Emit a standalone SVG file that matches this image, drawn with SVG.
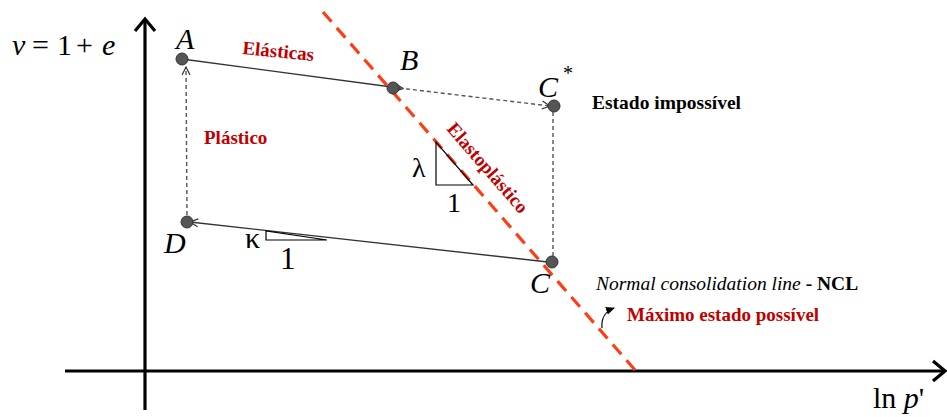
<svg xmlns="http://www.w3.org/2000/svg" width="947" height="417" viewBox="0 0 947 417">
<defs>
<marker id="open" markerUnits="userSpaceOnUse" markerWidth="12" markerHeight="12" refX="9" refY="5" orient="auto" viewBox="0 0 12 10">
<path d="M1,1 L9,5 L1,9" fill="none" stroke="#333" stroke-width="1.2"/>
</marker>
<marker id="axis" markerUnits="userSpaceOnUse" markerWidth="22" markerHeight="24" refX="18" refY="12" orient="auto" viewBox="0 0 22 24">
<path d="M6,2 L18,12 L6,22" fill="none" stroke="#000" stroke-width="3.2"/>
</marker>
<marker id="solid" markerUnits="userSpaceOnUse" markerWidth="10" markerHeight="10" refX="8" refY="5" orient="auto" viewBox="0 0 10 10">
<path d="M0,1 L9,5 L0,9 Z" fill="#000"/>
</marker>
</defs>
<style>
.ax{stroke:#000;stroke-width:3.2;fill:none}
.sl{stroke:#333;stroke-width:1.4;fill:none}
.dl{stroke:#555;stroke-width:1.4;fill:none;stroke-dasharray:4,3}
.ncl{stroke:#ff3d14;stroke-width:3.2;fill:none;stroke-dasharray:13,8}
.pt{fill:#555;stroke:#333;stroke-width:1}
.tri{fill:none;stroke:#000;stroke-width:1.2}
.m{font-family:"Liberation Serif",serif;fill:#000}
.i{font-style:italic}
.lab{font-family:"Liberation Serif",serif;font-weight:bold;font-size:19px;fill:#c00000}
.blk{font-family:"Liberation Serif",serif;font-size:19.5px;fill:#000}
</style>
<rect width="947" height="417" fill="#fff"/>
<g id="axes">
<line class="ax" x1="145" y1="410" x2="145" y2="19" marker-end="url(#axis)"/>
<line class="ax" x1="65" y1="371" x2="945" y2="371" marker-end="url(#axis)"/>
<text class="m i" x="12" y="55" font-size="30">v</text>
<text class="m" x="32" y="55" font-size="30">=</text>
<text class="m" x="57" y="55" font-size="30">1</text>
<text class="m" x="76" y="55" font-size="30">+</text>
<text class="m i" x="102" y="55" font-size="30">e</text>
<text class="m" x="873" y="408" font-size="30">ln <tspan class="i">p</tspan>'</text>
</g>
<g id="ncl-line">
<line class="ncl" x1="323" y1="12" x2="635" y2="370"/>
</g>
<g id="connectors">
<line class="sl" x1="182" y1="59" x2="403" y2="88.5" marker-end="url(#open)"/>
<line class="dl" x1="399" y1="88" x2="550" y2="106" marker-end="url(#open)"/>
<line class="dl" x1="553" y1="112" x2="553" y2="257"/>
<line class="sl" x1="548" y1="262" x2="190" y2="222" marker-end="url(#open)"/>
<line class="dl" x1="187" y1="215" x2="186" y2="67" marker-end="url(#open)"/>
<path d="M602,328 C601,318 606,311 614,308" fill="none" stroke="#000" stroke-width="1.2" marker-end="url(#solid)"/>
</g>
<g id="A"><circle class="pt" cx="182" cy="59" r="6"/><text class="m i" x="176" y="49" font-size="30">A</text></g>
<g id="B"><circle class="pt" cx="393" cy="88" r="6"/><text class="m i" x="400" y="70" font-size="30">B</text></g>
<g id="Cstar"><circle class="pt" cx="554" cy="106" r="6"/><text class="m i" x="538" y="97" font-size="30">C</text><text class="m" x="563" y="80" font-size="20">*</text></g>
<g id="C"><circle class="pt" cx="552" cy="262" r="6"/><text class="m i" x="530" y="293" font-size="30">C</text></g>
<g id="D"><circle class="pt" cx="187" cy="222" r="6"/><text class="m i" x="164" y="253" font-size="30">D</text></g>
<g id="lambda">
<polygon class="tri" points="436,142 436,185 473,185"/>
<text class="m" x="412" y="177" font-size="28">λ</text>
<text class="m" x="447" y="212" font-size="28">1</text>
</g>
<g id="kappa">
<polygon class="tri" points="266,231 266,240 327,240"/>
<text class="m" x="245" y="248" font-size="30">κ</text>
<text class="m" x="280" y="269" font-size="31">1</text>
</g>
<g id="labels">
<text class="lab" x="242" y="54" transform="rotate(5.5 242 54)">Elásticas</text>
<text class="lab" x="204" y="144">Plástico</text>
<text class="lab" x="483" y="172" text-anchor="middle" transform="rotate(49 483 172)">Elastoplástico</text>
<text class="blk" x="592" y="109" font-weight="bold">Estado impossível</text>
<text class="blk" x="596" y="290"><tspan font-style="italic">Normal consolidation line</tspan><tspan font-weight="bold"> - NCL</tspan></text>
<text class="lab" x="627" y="321">Máximo estado possível</text>
</g>
</svg>
